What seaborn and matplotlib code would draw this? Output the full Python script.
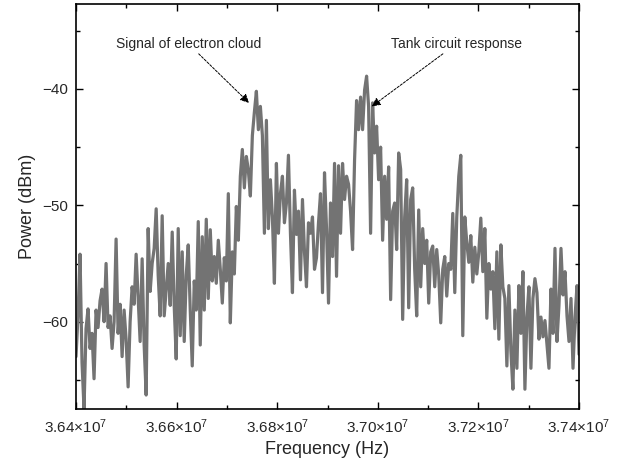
import matplotlib
matplotlib.use("Agg")
import matplotlib.pyplot as plt
import numpy as np
import seaborn as sns
from matplotlib.ticker import FuncFormatter, MultipleLocator

# spectrum, evenly spaced bins from 36.4 MHz to 37.4 MHz
f_start = 3.64e7
f_stop = 3.74e7
power_dbm = [
    -63.0, -59.5, -54.2, -63.5, -67.5, -60.6, -58.9, -62.3, -61.0, -64.9,
    -59.0, -60.5, -58.2, -57.2, -60.0, -55.0, -60.5, -59.5, -62.3, -60.0,
    -52.9, -61.0, -58.5, -63.0, -59.0, -61.5, -65.6, -60.0, -57.0, -58.5,
    -54.2, -58.0, -61.7, -54.6, -62.0, -66.3, -52.0, -57.4, -55.0, -53.7,
    -50.3, -56.0, -59.5, -50.9, -59.5, -57.2, -55.0, -58.6, -52.3, -58.6,
    -63.2, -52.0, -61.2, -54.0, -61.7, -56.0, -53.4, -59.0, -63.8, -56.5,
    -59.0, -51.4, -62.0, -52.7, -59.0, -51.2, -58.0, -52.1, -56.5, -54.4,
    -56.7, -53.0, -55.5, -58.4, -54.5, -56.5, -49.0, -60.1, -54.0, -55.9,
    -50.1, -53.0, -47.5, -45.2, -48.5, -45.8, -47.0, -49.2, -44.0, -42.0,
    -40.2, -43.5, -41.5, -44.0, -52.4, -42.7, -52.0, -47.8, -51.0, -56.7,
    -46.4, -52.4, -49.0, -47.5, -51.5, -49.8, -45.7, -52.4, -57.5, -48.7,
    -52.5, -50.5, -56.4, -49.5, -54.0, -57.0, -51.5, -52.4, -51.0, -55.5,
    -54.5, -51.5, -49.0, -57.5, -47.2, -52.0, -58.4, -49.8, -54.4, -46.4,
    -56.1, -46.6, -52.4, -46.4, -49.5, -47.5, -48.2, -50.5, -53.8, -46.1,
    -41.0, -43.5, -40.7, -43.5, -40.1, -38.9, -41.5, -52.4, -41.2, -45.5,
    -43.2, -47.8, -45.0, -53.0, -47.5, -51.2, -46.7, -58.1, -50.5, -49.8,
    -53.8, -45.5, -46.9, -59.8, -51.0, -47.8, -58.8, -49.5, -48.5, -55.5,
    -59.5, -50.4, -57.0, -52.0, -55.0, -53.0, -58.4, -54.0, -53.5, -57.0,
    -53.8, -56.0, -60.1, -55.5, -54.4, -57.8, -55.0, -55.5, -50.7, -57.5,
    -51.0, -47.5, -45.7, -61.2, -51.0, -53.2, -54.9, -52.6, -56.6, -53.6,
    -55.9, -54.0, -51.1, -55.7, -52.0, -59.7, -55.0, -57.2, -55.7, -60.6,
    -54.0, -61.5, -53.4, -57.0, -58.0, -63.8, -56.9, -62.5, -65.8, -59.0,
    -64.0, -56.9, -61.0, -55.7, -65.8, -59.6, -57.0, -64.0, -58.0, -56.3,
    -57.5, -61.5, -59.6, -61.3, -59.9, -62.0, -64.0, -57.2, -61.0, -53.7,
    -61.7, -58.6, -53.7, -57.7, -55.7, -59.5, -61.7, -58.0, -64.0, -59.6,
    -56.9, -62.8,
]
freq_hz = np.linspace(f_start, f_stop, len(power_dbm))

sns.set_style("ticks")
plt.rcParams["font.family"] = ["Liberation Sans", "DejaVu Sans"]
plt.rcParams["mathtext.default"] = "regular"

fig = plt.figure(figsize=(6.21, 4.76), dpi=100)
ax = fig.add_axes([0.1224, 0.1408, 0.81, 0.8508])

sns.lineplot(x=freq_hz, y=power_dbm, ax=ax, color="#737373", linewidth=2.3, sort=False)

ax.set_xlim(f_start, f_stop)
ax.set_ylim(-67.5, -32.7)

ax.xaxis.set_major_locator(MultipleLocator(2e5))
ax.xaxis.set_minor_locator(MultipleLocator(1e5))
ax.yaxis.set_major_locator(MultipleLocator(10))
ax.yaxis.set_minor_locator(MultipleLocator(5))
ax.xaxis.set_major_formatter(FuncFormatter(lambda v, p: f"{v / 1e7:.2f}\u00d710$^{{7}}$"))
ax.yaxis.set_major_formatter(FuncFormatter(lambda v, p: f"{v:.0f}".replace("-", "\u2212")))

ax.tick_params(which="both", direction="in", top=True, right=True, color="black", width=1.0)
ax.tick_params(which="major", length=5, labelsize=11, pad=6)
ax.tick_params(which="minor", length=3)
for side in ax.spines.values():
    side.set_visible(True)
    side.set_linewidth(1.2)
    side.set_color("black")

ax.set_xlabel("Frequency (Hz)", fontsize=13, labelpad=4)
ax.set_ylabel("Power (dBm)", fontsize=13, labelpad=4)

arrow_style = dict(arrowstyle="-|>", color="black", lw=0.7, linestyle=(0, (2.5, 1.5)),
                   mutation_scale=13, shrinkA=0, shrinkB=0)
ax.annotate("Signal of electron cloud", xy=(3.6744e7, -41.2), xytext=(3.6623e7, -36.1),
            ha="center", va="center", fontsize=10, arrowprops=arrow_style)
ax.annotate("Tank circuit response", xy=(3.6988e7, -41.5), xytext=(3.7157e7, -36.1),
            ha="center", va="center", fontsize=10, arrowprops=arrow_style)

fig.savefig("out.png", dpi=100)
